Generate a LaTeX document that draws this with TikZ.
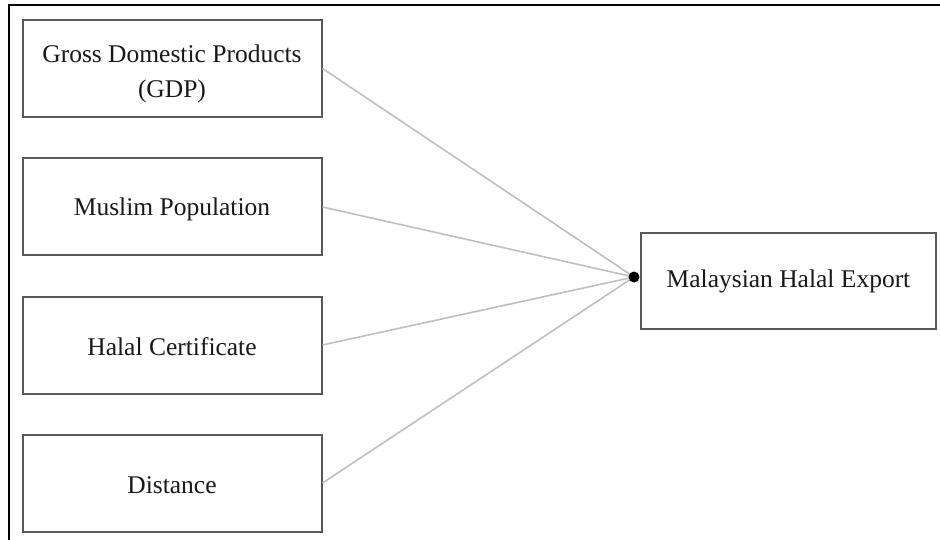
\documentclass[tikz,border=0pt]{standalone}
\usepackage{fontspec}
\setmainfont{Liberation Serif}
\newcommand{\dn}[2]{\raisebox{-#1}[\height][\depth]{#2}}
\begin{document}
\begin{tikzpicture}[x=1pt,y=-1pt,
  box/.style={draw=black!65,line width=2pt,minimum width=299pt,minimum height=97pt,
    inner sep=0pt,align=center,font=\fontsize{25.5}{35}\selectfont,text=black!90,fill=white},
  link/.style={draw=black!25,line width=1.6pt},
  frame/.style={draw=black,line width=2pt}]
\useasboundingbox (0,0) rectangle (940,540);
\draw[frame] (9,545) -- (9,5) -- (945,5);
\node[box] (gdp) at (172,68.5) {\dn{5pt}{\parbox{290pt}{\centering Gross Domestic Products\\(GDP)}}};
\node[box] (mus) at (172,207) {\dn{2pt}{Muslim Population}};
\node[box] (hal) at (172,345) {\dn{2pt}{Halal Certificate}};
\node[box] (dis) at (172,483) {\dn{2pt}{Distance}};
\node[box,minimum width=295pt,minimum height=96pt] (mhe) at (788.5,281) {Malaysian Halal Export};
\coordinate (hub) at (634,277);
\draw[link] (gdp.east) -- (hub);
\draw[link] (mus.east) -- (hub);
\draw[link] (hal.east) -- (hub);
\draw[link] (dis.east) -- (hub);
\fill[black] (hub) circle (5.5pt);
\end{tikzpicture}
\end{document}
